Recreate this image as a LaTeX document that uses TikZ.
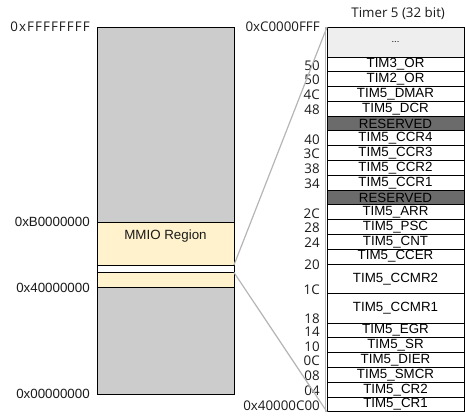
\documentclass[tikz,border=0pt]{standalone}
\usepackage{fontspec}
\setmainfont{Liberation Sans}
\newfontfamily\notefont{Open Sans}
\newfontfamily\widefont[LetterSpace=8]{Open Sans}
\usetikzlibrary{positioning}
\definecolor{memgray}{HTML}{CCCCCC}
\definecolor{mmioyellow}{HTML}{FFF2CC}
\definecolor{dotsgray}{HTML}{EEEEEE}
\definecolor{resvgray}{HTML}{6B6B6B}
\definecolor{zoomgray}{HTML}{B5B5B5}
\definecolor{labelink}{HTML}{1A1A1A}

\begin{document}
\begin{tikzpicture}[x=0.75pt, y=-0.75pt,
                    every node/.style={labelink, font=\fontsize{10}{12}\selectfont},
                    box/.style={draw=black, line width=0.75pt, outer sep=0pt, inner sep=0pt,
                                minimum width=102.75pt},
                    reg/.style={box, fill=white, text=black, minimum height=11.09pt},
                    dreg/.style={reg, minimum height=22.19pt},
                    resv/.style={reg, fill=resvgray},
                    addr/.style={inner sep=0pt},
                    offs/.style={inner sep=0pt, font=\notefont\fontsize{10}{12}\selectfont},
                    zoomline/.style={zoomgray, line width=0.9pt}]

  \useasboundingbox (0,0) rectangle (465,415);

  %% 整个地址空间
  \node[box, fill=memgray, minimum height=275.25pt, anchor=north west] (mem) at (97,27) {};

  %% MMIO 区域, 中间白色的一条是 Timer 5
  \node[box, fill=mmioyellow, minimum height=32.25pt, anchor=north west] (mmio) at (97,222) {};
  \node[box, fill=white, minimum height=5.6pt, below=0pt of mmio] (strip) {};
  \node[box, fill=mmioyellow, minimum height=11.6pt, below=0pt of strip] (mmiolow) {};
  \node (mmiolabel) at (165.5,236) {MMIO Region};

  %% 左边的地址
  \node[offs, font=\widefont\fontsize{10}{12}\selectfont, left=5.25pt of mem.north west] (atop) {0xFFFFFFFF};
  \node[addr, left=5.25pt of mmio.north west] (ammio) {0xB0000000};
  \node[addr, left=5.25pt of mmiolow.south west] (alow) {0x40000000};
  \node[addr, left=5.25pt of mem.south west] (azero) {0x00000000};

  %% Timer 5 的寄存器表
  \node[reg, fill=dotsgray, minimum height=22.5pt, anchor=north west] (dots) at (327,27)
    {\fontsize{7}{8}\selectfont ...};
  \node[reg, below=0pt of dots] (or3) {TIM3\_OR};
  \node[reg, below=0pt of or3] (or2) {TIM2\_OR};
  \node[reg, below=0pt of or2] (dmar) {TIM5\_DMAR};
  \node[reg, below=0pt of dmar] (dcr) {TIM5\_DCR};
  \node[resv, below=0pt of dcr] (resa) {RESERVED};
  \node[reg, below=0pt of resa] (ccr4) {TIM5\_CCR4};
  \node[reg, below=0pt of ccr4] (ccr3) {TIM5\_CCR3};
  \node[reg, below=0pt of ccr3] (ccr2) {TIM5\_CCR2};
  \node[reg, below=0pt of ccr2] (ccr1) {TIM5\_CCR1};
  \node[resv, below=0pt of ccr1] (resb) {RESERVED};
  \node[reg, below=0pt of resb] (arr) {TIM5\_ARR};
  \node[reg, below=0pt of arr] (psc) {TIM5\_PSC};
  \node[reg, below=0pt of psc] (cnt) {TIM5\_CNT};
  \node[reg, below=0pt of cnt] (ccer) {TIM5\_CCER};
  \node[dreg, below=0pt of ccer] (ccmr2) {TIM5\_CCMR2};
  \node[dreg, below=0pt of ccmr2] (ccmr1) {TIM5\_CCMR1};
  \node[reg, below=0pt of ccmr1] (egr) {TIM5\_EGR};
  \node[reg, below=0pt of egr] (sr) {TIM5\_SR};
  \node[reg, below=0pt of sr] (dier) {TIM5\_DIER};
  \node[reg, below=0pt of dier] (smcr) {TIM5\_SMCR};
  \node[reg, below=0pt of smcr] (cr2) {TIM5\_CR2};
  \node[reg, below=0pt of cr2] (cr1) {TIM5\_CR1};

  \node[offs, above=5pt of dots.north, xshift=2pt] (title) {Timer 5 (32 bit)};

  %% 偏移量
  \node[offs, left=5.25pt of dots.north west] (otop) {0xC0000FFF};
  \node[offs, left=5.25pt of or3.west, yshift=-0.75pt] (o50a) {50};
  \node[offs, left=5.25pt of or2.west, yshift=-0.75pt] (o50b) {50};
  \node[offs, left=5.25pt of dmar.west, yshift=-0.75pt] (o4c) {4C};
  \node[offs, left=5.25pt of dcr.west, yshift=-0.75pt] (o48) {48};
  \node[offs, left=5.25pt of ccr4.west, yshift=-0.75pt] (o40) {40};
  \node[offs, left=5.25pt of ccr3.west, yshift=-0.75pt] (o3c) {3C};
  \node[offs, left=5.25pt of ccr2.west, yshift=-0.75pt] (o38) {38};
  \node[offs, left=5.25pt of ccr1.west, yshift=-0.75pt] (o34) {34};
  \node[offs, left=5.25pt of arr.west, yshift=-0.75pt] (o2c) {2C};
  \node[offs, left=5.25pt of psc.west, yshift=-0.75pt] (o28) {28};
  \node[offs, left=5.25pt of cnt.west, yshift=-0.75pt] (o24) {24};
  \node[offs, left=5.25pt of ccmr2.north west, yshift=-0.75pt] (o20) {20};
  \node[offs, left=5.25pt of ccmr2.south west, yshift=3pt] (o1c) {1C};
  \node[offs, left=5.25pt of ccmr1.south west, yshift=3pt] (o18) {18};
  \node[offs, left=5.25pt of egr.west, yshift=-0.75pt] (o14) {14};
  \node[offs, left=5.25pt of sr.west, yshift=-0.75pt] (o10) {10};
  \node[offs, left=5.25pt of dier.west, yshift=-0.75pt] (o0c) {0C};
  \node[offs, left=5.25pt of smcr.west, yshift=-0.75pt] (o08) {08};
  \node[offs, left=5.25pt of cr2.west, yshift=-0.75pt] (o04) {04};
  \node[offs, left=5.25pt of cr1.west, yshift=-0.75pt] (obase) {0x40000C00};

  %% 放大的两条线
  \draw[zoomline] (strip.north east) -- (dots.north west);
  \draw[zoomline] (strip.south east) -- (cr1.south west);
  \draw[zoomline] ([xshift=-1pt]dots.north west) -- ([xshift=-1pt]cr1.south west);

\end{tikzpicture}
\end{document}
